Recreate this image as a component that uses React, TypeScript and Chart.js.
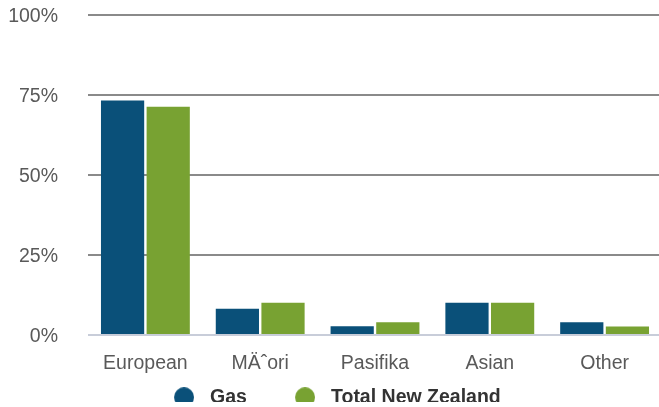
import React, { useEffect, useRef } from "react";
import { Chart, registerables } from "chart.js";

Chart.register(...registerables);

const categories = ["European", "MÄˆori", "Pasifika", "Asian", "Other"];
const gasValues = [73.2, 8.2, 2.8, 10.1, 4.0];
const totalNzValues = [71.3, 10.1, 4.0, 10.1, 2.7];
const seriesNames = ["Gas", "Total New Zealand"];
const yTicks = [0, 25, 50, 75, 100];

const BLUE = "#0a5079";
const GREEN = "#78a232";
const FONT = "'Liberation Sans', Arial, sans-serif";

function makeDot(color: string): HTMLCanvasElement {
  const c = document.createElement("canvas");
  c.width = 50;
  c.height = 20;
  const ctx = c.getContext("2d")!;
  ctx.fillStyle = color;
  ctx.beginPath();
  ctx.arc(40, 10, 10, 0, Math.PI * 2);
  ctx.fill();
  return c;
}

export default function App() {
  const ref = useRef<HTMLCanvasElement | null>(null);

  useEffect(() => {
    if (!ref.current) return;
    const dots = [makeDot(BLUE), makeDot(GREEN)];
    const chart = new Chart(ref.current, {
      type: "bar",
      data: {
        labels: categories,
        datasets: [
          {
            label: seriesNames[0],
            data: gasValues,
            backgroundColor: BLUE,
            pointStyle: dots[0] as any,
            categoryPercentage: 0.795,
            barPercentage: 0.947,
          },
          {
            label: seriesNames[1],
            data: totalNzValues,
            backgroundColor: GREEN,
            pointStyle: dots[1] as any,
            categoryPercentage: 0.795,
            barPercentage: 0.947,
          },
        ],
      },
      options: {
        animation: false,
        responsive: true,
        maintainAspectRatio: false,
        layout: { padding: { top: 14.7, right: 0, left: -23.4, bottom: 0 } },
        plugins: {
          tooltip: { enabled: false },
          legend: {
            position: "bottom",
            labels: {
              usePointStyle: true,
              pointStyleWidth: 62.4,
              padding: 12,
              color: "#333333",
              font: { family: FONT, size: 19.5, weight: "bold" },
            },
          },
        },
        scales: {
          x: {
            grid: {
              display: true,
              drawOnChartArea: false,
              drawTicks: true,
              tickLength: 17,
              color: "rgba(0,0,0,0)",
              tickColor: "rgba(0,0,0,0)",
            },
            border: { display: false },
            ticks: {
              color: "#595959",
              padding: 0,
              font: { family: FONT, size: 19.5 },
            },
          },
          y: {
            min: 0,
            max: 100,
            afterFit: (s: any) => {
              s.width = 111.4;
            },
            afterBuildTicks: (s: any) => {
              s.ticks = yTicks.map((v) => ({ value: v }));
            },
            grid: {
              drawTicks: true,
              tickLength: 30,
              tickColor: "rgba(0,0,0,0)",
              lineWidth: 2,
              color: (c: any) => (c.tick && c.tick.value === 0 ? "#c8cdd9" : "#8a8a8a"),
            },
            border: { display: false },
            ticks: {
              color: "#595959",
              padding: 0,
              labelOffset: 2,
              font: { family: FONT, size: 19.5 },
              callback: (v: any) => v + "%",
            },
          },
        },
      },
    });
    return () => chart.destroy();
  }, []);

  return (
    <div
      style={{
        position: "absolute",
        left: 0,
        top: 0,
        width: 659,
        height: 402,
        overflow: "hidden",
        background: "#ffffff",
      }}
    >
      <div style={{ position: "absolute", left: 0, top: 0, width: 662, height: 417 }}>
        <canvas ref={ref} />
      </div>
    </div>
  );
}
